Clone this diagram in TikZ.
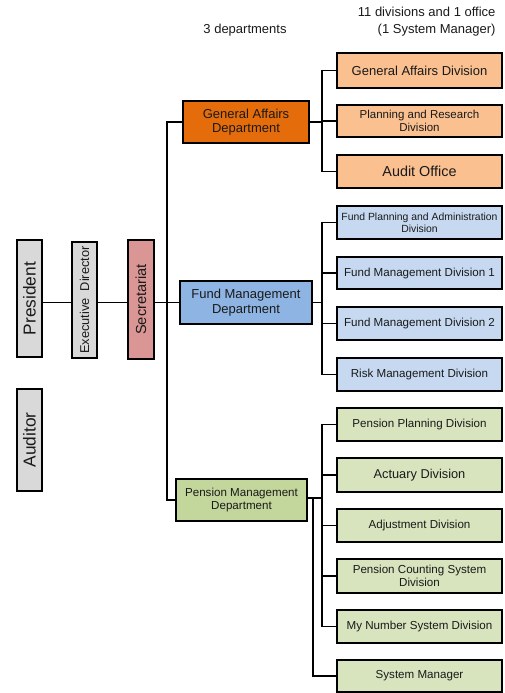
\documentclass[tikz,border=0pt]{standalone}
\usepackage{fontspec}
\setmainfont{Liberation Sans}
\usetikzlibrary{shadows}
\definecolor{greybox}{HTML}{D9D9D9}
\definecolor{rosebox}{HTML}{D99694}
\definecolor{gadept}{HTML}{E46C0A}
\definecolor{gadiv}{HTML}{FAC090}
\definecolor{fmdept}{HTML}{8EB4E3}
\definecolor{fmdiv}{HTML}{C6D9F1}
\definecolor{pmdept}{HTML}{C3D69B}
\definecolor{pmdiv}{HTML}{D7E4BD}
\definecolor{ink}{HTML}{1A1A1A}
\newcommand{\fs}[1]{\fontsize{#1}{#1}\selectfont\baselineskip=1.12\baselineskip}
\tikzset{
  box/.style={draw=black, line width=1.6pt, inner sep=0pt, align=center,
    text=ink, drop shadow={shadow xshift=1pt, shadow yshift=-1pt, opacity=.35}},
  dept/.style={box, minimum height=42pt},
  division/.style={box, minimum width=165pt},
  link/.style={draw=black, line width=1.8pt},
}
\begin{document}
\begin{tikzpicture}[x=1pt, y=-1pt]
\useasboundingbox (0,0) rectangle (504,693);

% column headers
\node[text=ink, font=\fs{13}] (hdept) at (245,30) {3 departments};
\node[text=ink, font=\fontsize{13}{17}\selectfont, align=right, anchor=north east]
  (hdiv) at (499,4) {11 divisions and 1 office\\(1 System Manager)};

% executive column (rotated boxes)
\node[box, fill=greybox, rotate=90, minimum width=117pt, minimum height=25pt, font=\fs{17.3}]
  (pres) at (29.5,298.5) {President};
\node[box, fill=greybox, rotate=90, minimum width=102pt, minimum height=25pt, font=\fs{17.3}]
  (aud) at (29.5,440) {Auditor};
\node[box, fill=greybox, rotate=90, minimum width=116pt, minimum height=25pt, font=\fs{12.8}]
  (ed) at (84.5,300) {Executive\ \ Director};
\node[box, fill=rosebox, rotate=90, minimum width=119pt, minimum height=26pt, font=\fs{14.6}]
  (sec) at (141,299.5) {Secretariat};

% departments
\node[dept, fill=gadept, minimum width=126pt, font=\fs{13}] (gad) at (246,122)
  {General Affairs\\Department};
\node[dept, fill=fmdept, minimum width=132pt, minimum height=43pt, font=\fs{13}] (fmd) at (246,302.5)
  {Fund Management\\Department};
\node[dept, fill=pmdept, minimum width=131pt, font=\fs{11.6}] (pmd) at (241.5,500)
  {Pension Management\\Department};

% divisions of the General Affairs Department
\node[division, fill=gadiv, minimum height=35pt, font=\fs{13}] (gadv) at (419.5,70.5)
  {General Affairs Division};
\node[division, fill=gadiv, minimum height=32pt, font=\fs{11.5}] (prd) at (419.5,121)
  {Planning and Research\\Division};
\node[division, fill=gadiv, minimum height=33pt, font=\fs{14.4}] (audo) at (419.5,171.5)
  {Audit Office};

% divisions of the Fund Management Department
\node[division, fill=fmdiv, minimum height=33pt, font=\fs{10.4}] (fpa) at (419.5,222.5)
  {Fund Planning and Administration\\Division};
\node[division, fill=fmdiv, minimum height=32pt, font=\fs{11.6}] (fm1) at (419.5,273)
  {Fund Management Division 1};
\node[division, fill=fmdiv, minimum height=33pt, font=\fs{11.6}] (fm2) at (419.5,323.5)
  {Fund Management Division 2};
\node[division, fill=fmdiv, minimum height=33pt, font=\fs{11.6}] (risk) at (419.5,374.5)
  {Risk Management Division};

% divisions of the Pension Management Department
\node[division, fill=pmdiv, minimum height=33pt, font=\fs{11.6}] (ppd) at (419.5,424.5)
  {Pension Planning Division};
\node[division, fill=pmdiv, minimum height=34pt, font=\fs{12.8}] (act) at (419.5,475)
  {Actuary Division};
\node[division, fill=pmdiv, minimum height=33pt, font=\fs{11.6}] (adj) at (419.5,525.5)
  {Adjustment Division};
\node[division, fill=pmdiv, minimum height=34pt, font=\fs{11.6}] (pcs) at (419.5,576)
  {Pension Counting System\\Division};
\node[division, fill=pmdiv, minimum height=33pt, font=\fs{11.6}] (myn) at (419.5,626.5)
  {My Number System Division};
\node[division, fill=pmdiv, minimum height=32pt, font=\fs{11.6}] (sysm) at (419.5,676)
  {System Manager};

% bracket columns
\coordinate (trunk) at (167,0);
\coordinate (bx) at (322,0);
\coordinate (bx2) at (313,0);

% executive line
\draw[link] (pres.south |- fmd.west) -- (ed.north |- fmd.west);
\draw[link] (ed.south |- fmd.west) -- (sec.north |- fmd.west);
\draw[link] (sec.south |- fmd.west) -- (fmd.west);

% trunk to the departments
\draw[link] (gad.west) -- (gad.west -| trunk) |- (pmd.west);

% General Affairs bracket
\draw[link] (gad.east) -- (gad.east -| bx);
\draw[link] (gadv.west) -- (gadv.west -| bx) |- (audo.west);
\draw[link] (prd.west) -- (prd.west -| bx);

% Fund Management bracket
\draw[link] (fmd.east) -- (fmd.east -| bx);
\draw[link] (fpa.west) -- (fpa.west -| bx) |- (risk.west);
\draw[link] (fm1.west) -- (fm1.west -| bx);
\draw[link] (fm2.west) -- (fm2.west -| bx);

% Pension Management bracket
\draw[link] ([yshift=2pt]pmd.east) -- ([yshift=2pt]pmd.east -| bx);
\draw[link] (ppd.west) -- (ppd.west -| bx) |- (myn.west);
\draw[link] (act.west) -- (act.west -| bx);
\draw[link] (adj.west) -- (adj.west -| bx);
\draw[link] (pcs.west) -- (pcs.west -| bx);
\draw[link] ([yshift=2pt]pmd.east -| bx2) |- (sysm.west);
\end{tikzpicture}
\end{document}
